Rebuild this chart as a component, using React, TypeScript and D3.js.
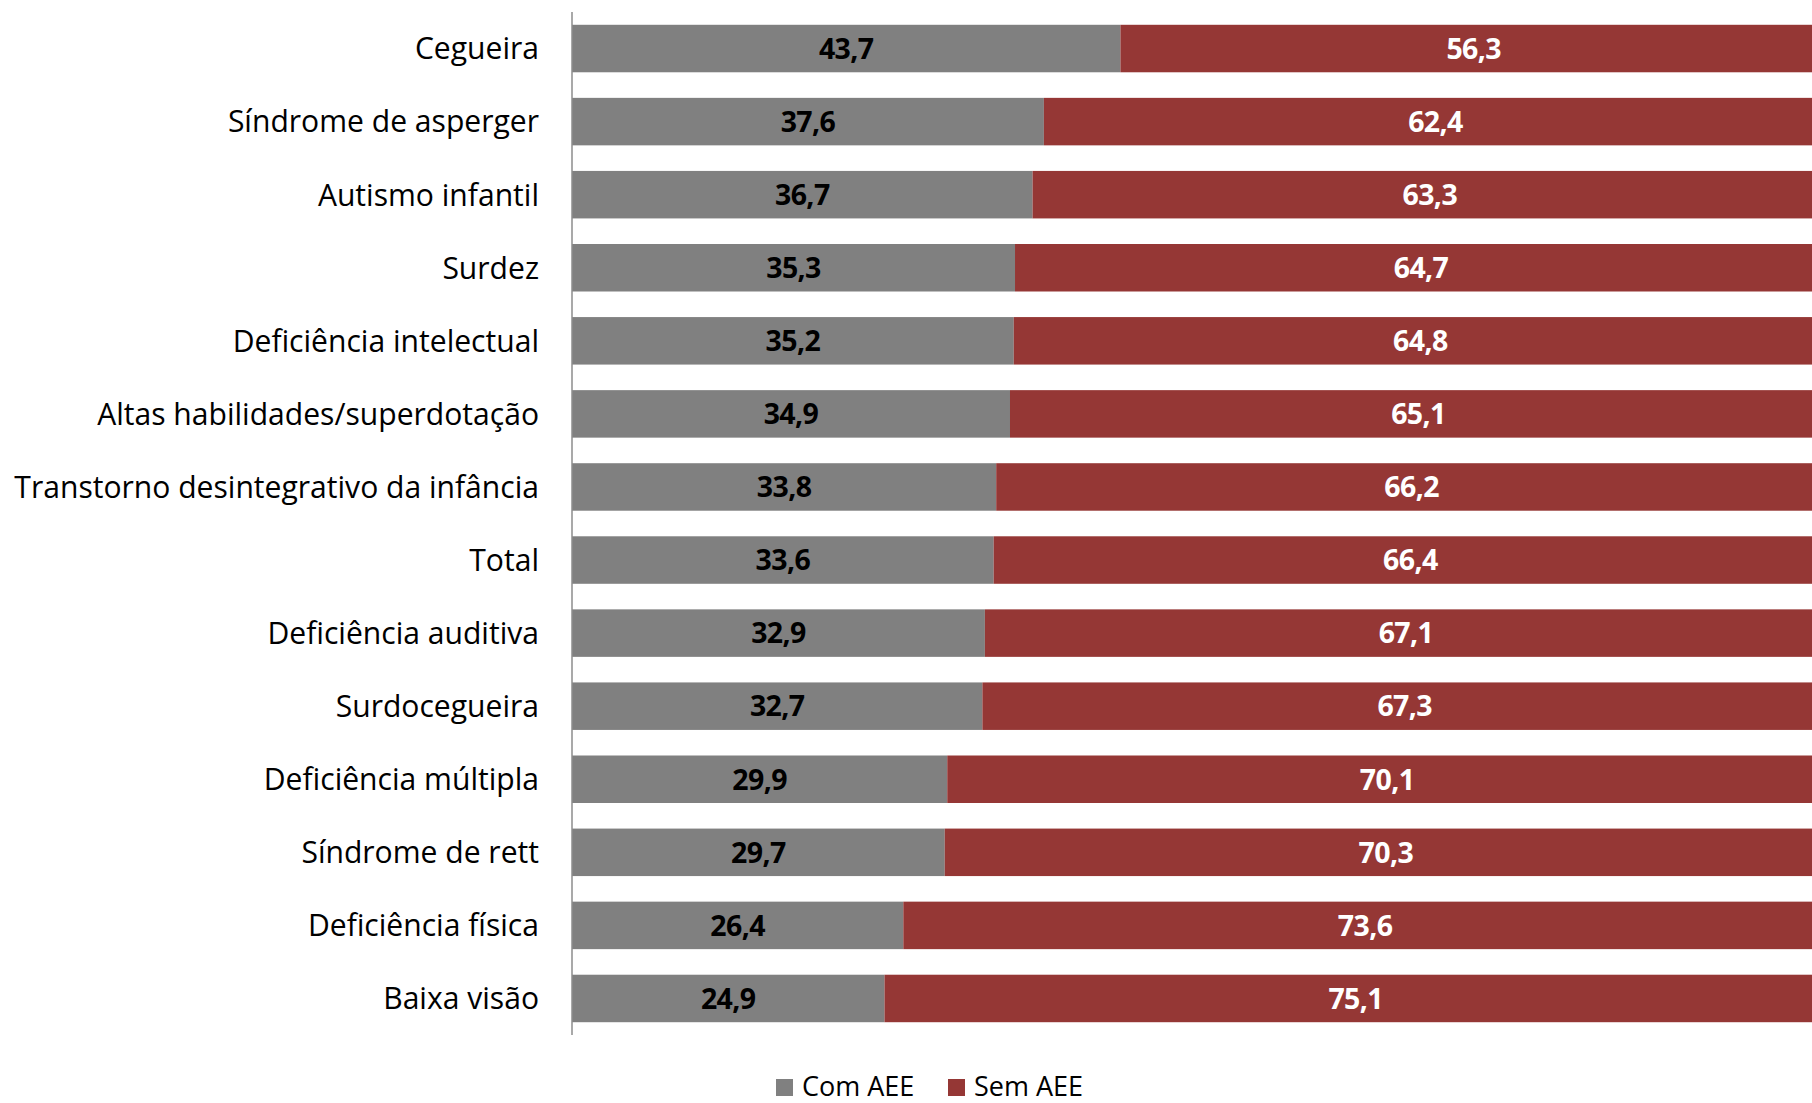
import React, { useEffect, useRef } from "react";
import * as d3 from "d3";

const categories = [
  "Cegueira",
  "Síndrome de asperger",
  "Autismo infantil",
  "Surdez",
  "Deficiência intelectual",
  "Altas habilidades/superdotação",
  "Transtorno desintegrativo da infância",
  "Total",
  "Deficiência auditiva",
  "Surdocegueira",
  "Deficiência múltipla",
  "Síndrome de rett",
  "Deficiência física",
  "Baixa visão",
];

const comAEE = [43.7, 37.6, 36.7, 35.3, 35.2, 34.9, 33.8, 33.6, 32.9, 32.7, 29.9, 29.7, 26.4, 24.9];
const semAEE = [56.3, 62.4, 63.3, 64.7, 64.8, 65.1, 66.2, 66.4, 67.1, 67.3, 70.1, 70.3, 73.6, 75.1];

const seriesNames = ["Com AEE", "Sem AEE"];
const seriesColors = ["#808080", "#953735"];
const labelColors = ["#000000", "#ffffff"];

const W = 1812;
const H = 1103;
const FONT = "'Open Sans', Lato, sans-serif";

export default function App() {
  const svgRef = useRef<SVGSVGElement>(null);

  useEffect(() => {
    if (!svgRef.current) return;
    const svg = d3.select(svgRef.current);
    svg.selectAll("*").remove();

    const left = 572;
    const top = 12;
    const bottom = 1035;

    const x = d3.scaleLinear().domain([0, 100]).range([left, left + 1255]);
    const y = d3
      .scaleBand<string>()
      .domain(categories)
      .range([top, bottom])
      .paddingInner(0.35)
      .paddingOuter(0.175);

    const rows = categories.map((c, i) => ({ cat: c, vals: [comAEE[i], semAEE[i]] }));

    const g = svg.append("g");

    rows.forEach((r) => {
      let acc = 0;
      r.vals.forEach((v, s) => {
        const x0 = x(acc);
        const x1 = x(acc + v);
        g.append("rect")
          .attr("x", x0)
          .attr("y", y(r.cat)!)
          .attr("width", x1 - x0)
          .attr("height", y.bandwidth())
          .attr("fill", seriesColors[s]);
        g.append("text")
          .attr("x", (x0 + x1) / 2)
          .attr("y", y(r.cat)! + y.bandwidth() / 2)
          .attr("dy", "0.36em")
          .attr("text-anchor", "middle")
          .attr("font-family", FONT)
          .attr("font-weight", "bold")
          .attr("font-size", 28.5)
          .attr("letter-spacing", -0.6)
          .attr("fill", labelColors[s])
          .text(v.toFixed(1).replace(".", ","));
        acc += v;
      });
    });

    // category axis
    g.append("line")
      .attr("x1", left)
      .attr("x2", left)
      .attr("y1", top)
      .attr("y2", bottom)
      .attr("stroke", "#8c8c8c")
      .attr("stroke-width", 1.5);

    const cats = g
      .selectAll(".cat")
      .data(categories)
      .enter()
      .append("text")
      .attr("x", left - 33)
      .attr("y", (d) => y(d)! + y.bandwidth() / 2)
      .attr("dy", "0.36em")
      .attr("text-anchor", "end")
      .attr("font-family", FONT)
      .attr("font-size", 27)
      .attr("fill", "#000")
      .text((d) => d);

    // size the labels so the longest one spans like in the original
    const longest = cats.filter((d) => d === "Transtorno desintegrativo da infância").node() as SVGTextElement;
    if (longest) {
      const w = longest.getComputedTextLength();
      if (w > 0) cats.attr("font-size", (27 * 525) / w);
    }

    // legend
    const legend = svg.append("g").attr("transform", "translate(776,1086)");
    const offsets = [0, 172];
    seriesNames.forEach((n, i) => {
      legend
        .append("rect")
        .attr("x", offsets[i])
        .attr("y", -7)
        .attr("width", 17)
        .attr("height", 17)
        .attr("fill", seriesColors[i]);
      legend
        .append("text")
        .attr("x", offsets[i] + 26)
        .attr("y", 0)
        .attr("dy", "0.36em")
        .attr("font-family", FONT)
        .attr("font-size", 27)
        .attr("fill", "#000")
        .text(n);
    });
  }, []);

  return (
    <svg
      ref={svgRef}
      width={W}
      height={H}
      viewBox={`0 0 ${W} ${H}`}
      style={{ position: "absolute", left: 0, top: 0, background: "#fff" }}
    />
  );
}
